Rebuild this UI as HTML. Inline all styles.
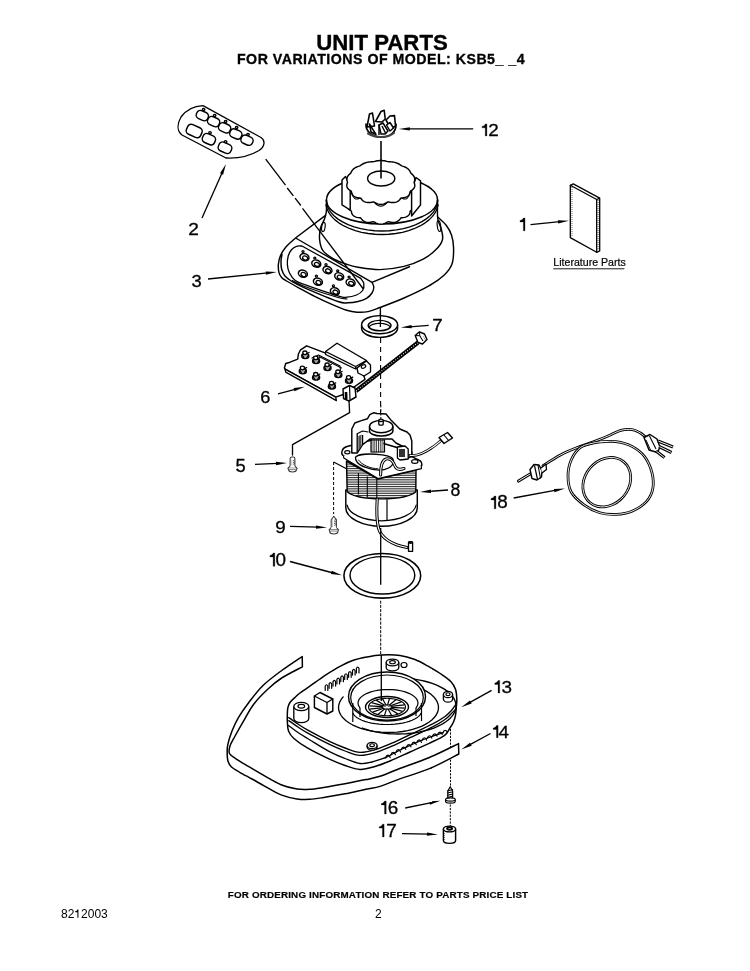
<!DOCTYPE html>
<html><head><meta charset="utf-8"><title>Unit Parts</title>
<style>
html,body{margin:0;padding:0;background:#fff;}
body{width:750px;height:971px;overflow:hidden;position:relative;font-family:"Liberation Sans",sans-serif;}
svg{position:absolute;left:0;top:0;-webkit-font-smoothing:antialiased;}
text{will-change:transform;}
.t{font-family:"Liberation Sans",sans-serif;fill:#000;}
.l{font-size:17.5px;stroke:#000;stroke-width:0.3px;}
.s{fill:none;stroke:#000;stroke-width:1.3;stroke-linejoin:round;stroke-linecap:round;}
.d{fill:none;stroke:#000;stroke-width:1;stroke-dasharray:6 3;}
.w{fill:#fff;stroke:#000;stroke-width:1.3;stroke-linejoin:round;}
.k{fill:#000;stroke:none;}
</style></head>
<body>
<svg width="750" height="971" viewBox="0 0 750 971">
<!-- TITLE -->
<text class="t" x="382" y="50" font-size="22.2" font-weight="bold" text-anchor="middle" style="stroke:#000;stroke-width:0.35px">UNIT PARTS</text>
<text class="t" x="381" y="64.4" font-size="14.2" font-weight="bold" text-anchor="middle" letter-spacing="0.48" style="stroke:#000;stroke-width:0.3px">FOR VARIATIONS OF MODEL: KSB5_ _4</text>
<!-- FOOTER -->
<text class="t" transform="translate(378 898) scale(1.2 1)" x="0" y="0" font-size="8.2" font-weight="bold" text-anchor="middle" letter-spacing="0.14" style="stroke:#000;stroke-width:0.15px">FOR ORDERING INFORMATION REFER TO PARTS PRICE LIST</text>
<text class="t" x="61" y="917.7" font-size="12">82<tspan style="fill:none">1</tspan>2003</text><path d="M77.37,909.44 L78.43,909.44 L78.43,917.70 L77.37,917.70 L77.37,912.14 L75.17,912.14 L75.17,911.19 C76.37,910.99 77.02,910.34 77.37,909.44 Z" style="fill:#000"/>
<text class="t" x="375" y="917.5" font-size="12">2</text>
<!-- LABELS -->
<path d="M485.25,123.90 L486.90,123.90 L486.90,135.90 L485.25,135.90 L485.25,127.80 L482.00,127.80 L482.00,126.40 C483.75,126.10 484.75,125.20 485.25,123.90 Z" style="fill:#000;stroke:#000;stroke-width:0.3px;stroke-linejoin:round"/>
<text class="t l" transform="translate(488.29 135.75) scale(1.080 0.958)">2</text>
<path d="M523.35,218.00 L525.00,218.00 L525.00,230.80 L523.35,230.80 L523.35,221.90 L520.00,221.90 L520.00,220.50 C521.85,220.20 522.85,219.30 523.35,218.00 Z" style="fill:#000;stroke:#000;stroke-width:0.3px;stroke-linejoin:round"/>
<text class="t l" transform="translate(188.19 234.75) scale(1.091 0.950)">2</text>
<text class="t l" transform="translate(191.45 287.28) scale(1.049 0.993)">3</text>
<text class="t l" transform="translate(432.19 331.45) scale(1.068 0.950)">7</text>
<text class="t l" transform="translate(260.23 403.18) scale(1.040 0.985)">6</text>
<text class="t l" transform="translate(235.42 471.68) scale(1.049 1.016)">5</text>
<text class="t l" transform="translate(450.58 496.48) scale(1.011 1.009)">8</text>
<text class="t l" transform="translate(275.27 532.69) scale(1.076 0.950)">9</text>
<path d="M494.25,496.00 L495.90,496.00 L495.90,508.80 L494.25,508.80 L494.25,499.90 L491.00,499.90 L491.00,498.50 C492.75,498.20 493.75,497.30 494.25,496.00 Z" style="fill:#000;stroke:#000;stroke-width:0.3px;stroke-linejoin:round"/>
<text class="t l" transform="translate(497.16 508.48) scale(1.080 1.009)">8</text>
<path d="M273.15,553.00 L274.80,553.00 L274.80,566.30 L273.15,566.30 L273.15,556.90 L269.90,556.90 L269.90,555.50 C271.65,555.20 272.65,554.30 273.15,553.00 Z" style="fill:#000;stroke:#000;stroke-width:0.3px;stroke-linejoin:round"/>
<text class="t l" transform="translate(275.58 565.97) scale(1.080 1.049)">0</text>
<path d="M498.05,680.50 L499.70,680.50 L499.70,693.00 L498.05,693.00 L498.05,684.40 L494.80,684.40 L494.80,683.00 C496.55,682.70 497.55,681.80 498.05,680.50 Z" style="fill:#000;stroke:#000;stroke-width:0.3px;stroke-linejoin:round"/>
<text class="t l" transform="translate(501.47 692.68) scale(1.080 0.985)">3</text>
<path d="M496.45,725.50 L498.10,725.50 L498.10,737.70 L496.45,737.70 L496.45,729.40 L493.20,729.40 L493.20,728.00 C494.95,727.70 495.95,726.80 496.45,725.50 Z" style="fill:#000;stroke:#000;stroke-width:0.3px;stroke-linejoin:round"/>
<text class="t l" transform="translate(498.59 737.55) scale(1.080 0.988)">4</text>
<path d="M384.55,801.00 L386.20,801.00 L386.20,814.00 L384.55,814.00 L384.55,804.90 L381.30,804.90 L381.30,803.50 C383.05,803.20 384.05,802.30 384.55,801.00 Z" style="fill:#000;stroke:#000;stroke-width:0.3px;stroke-linejoin:round"/>
<text class="t l" transform="translate(387.87 813.67) scale(1.080 1.025)">6</text>
<path d="M382.45,824.20 L384.10,824.20 L384.10,837.00 L382.45,837.00 L382.45,828.10 L379.20,828.10 L379.20,826.70 C380.95,826.40 381.95,825.50 382.45,824.20 Z" style="fill:#000;stroke:#000;stroke-width:0.3px;stroke-linejoin:round"/>
<text class="t l" transform="translate(386.19 836.85) scale(1.080 1.038)">7</text>
<text class="t" x="553.3" y="266.2" font-size="10.6" style="stroke:#000;stroke-width:0.2px">Literature Parts</text>
<line x1="553.3" y1="268.8" x2="624.4" y2="268.8" stroke="#000" stroke-width="0.9"/>
<line x1="473.2" y1="128.9" x2="407.8" y2="128.9" stroke="#000" stroke-width="1.32"/>
<path class="k" d="M398.8,128.9 L409.8,127.2 L409.8,130.6 Z"/>
<line x1="530.5" y1="224.6" x2="560.04" y2="221.68" stroke="#000" stroke-width="1.32"/>
<path class="k" d="M569,220.8 L558.22,223.57 L557.89,220.19 Z"/>
<line x1="202" y1="218" x2="222.34" y2="172.22" stroke="#000" stroke-width="1.32"/>
<path class="k" d="M226,164 L223.09,174.74 L219.98,173.36 Z"/>
<line x1="208" y1="279" x2="267.85" y2="272.91" stroke="#000" stroke-width="1.32"/>
<path class="k" d="M276.8,272 L266.03,274.8 L265.68,271.42 Z"/>
<line x1="428.7" y1="325.3" x2="409.67" y2="326.8" stroke="#000" stroke-width="1.32"/>
<path class="k" d="M400.7,327.5 L411.53,324.94 L411.8,328.33 Z"/>
<line x1="278" y1="393.9" x2="296.01" y2="389.04" stroke="#000" stroke-width="1.32"/>
<path class="k" d="M304.7,386.7 L294.52,391.21 L293.64,387.92 Z"/>
<line x1="255" y1="464.4" x2="278.01" y2="463.39" stroke="#000" stroke-width="1.32"/>
<path class="k" d="M287,463 L276.08,465.18 L275.94,461.78 Z"/>
<line x1="448" y1="490" x2="428.98" y2="491.36" stroke="#000" stroke-width="1.32"/>
<path class="k" d="M420,492 L430.85,489.52 L431.09,492.91 Z"/>
<line x1="290" y1="526.4" x2="318" y2="527.16" stroke="#000" stroke-width="1.32"/>
<path class="k" d="M327,527.4 L315.96,528.8 L316.05,525.4 Z"/>
<line x1="513.7" y1="498" x2="556.15" y2="490.22" stroke="#000" stroke-width="1.32"/>
<path class="k" d="M565,488.6 L554.49,492.25 L553.87,488.91 Z"/>
<line x1="290" y1="561.5" x2="333.3" y2="572.99" stroke="#000" stroke-width="1.32"/>
<path class="k" d="M342,575.3 L330.93,574.12 L331.8,570.84 Z"/>
<line x1="491.6" y1="690.3" x2="469.06" y2="702.91" stroke="#000" stroke-width="1.32"/>
<path class="k" d="M461.2,707.3 L469.97,700.45 L471.63,703.41 Z"/>
<line x1="490.5" y1="733.5" x2="469.1" y2="745.19" stroke="#000" stroke-width="1.32"/>
<path class="k" d="M461.2,749.5 L470.04,742.74 L471.67,745.72 Z"/>
<line x1="405.2" y1="808" x2="431.58" y2="802.6" stroke="#000" stroke-width="1.32"/>
<path class="k" d="M440.4,800.8 L429.96,804.67 L429.28,801.34 Z"/>
<line x1="402" y1="833.6" x2="429" y2="834.2" stroke="#000" stroke-width="1.32"/>
<path class="k" d="M438,834.4 L426.96,835.86 L427.04,832.46 Z"/>
<path class="s" d="M203,105.6 L261,137.5 C265.5,140.5 265,146.5 259,150.5 C250,156 238,158.5 226,158 L182,135 C177,131 177,124 181,117 C186,110 194,106 203,105.6 Z"/>
<rect class="s" x="196.2" y="111.3" width="12.2" height="8.6" rx="4" ry="3.6" transform="rotate(24 202.3 115.6)" style="stroke-width:1.45"/>
<rect class="s" x="207.5" y="117.3" width="12.2" height="8.6" rx="4" ry="3.6" transform="rotate(24 213.6 121.6)" style="stroke-width:1.45"/>
<rect class="s" x="218.5" y="123.5" width="12.2" height="8.6" rx="4" ry="3.6" transform="rotate(24 224.6 127.8)" style="stroke-width:1.45"/>
<rect class="s" x="229.7" y="129.7" width="12.2" height="8.6" rx="4" ry="3.6" transform="rotate(24 235.8 134)" style="stroke-width:1.45"/>
<rect class="s" x="240.9" y="135.9" width="12.2" height="8.6" rx="4" ry="3.6" transform="rotate(24 247 140.2)" style="stroke-width:1.45"/>
<rect class="s" x="186.45" y="125.75" width="15.5" height="10.5" rx="4" ry="3.6" transform="rotate(24 194.2 131)" style="stroke-width:1.45"/>
<rect class="s" x="202.4" y="134.5" width="13" height="9.4" rx="4" ry="3.6" transform="rotate(24 208.9 139.2)" style="stroke-width:1.45"/>
<rect class="s" x="218.3" y="143.1" width="13.4" height="9.4" rx="4" ry="3.6" transform="rotate(24 225 147.8)" style="stroke-width:1.45"/>
<ellipse class="w" cx="203.6" cy="109.6" rx="1.3" ry="1.1"/>
<ellipse class="w" cx="214.6" cy="115.4" rx="1.3" ry="1.1"/>
<ellipse class="w" cx="225.6" cy="121.4" rx="1.3" ry="1.1"/>
<ellipse class="w" cx="236.6" cy="127.6" rx="1.3" ry="1.1"/>
<ellipse class="w" cx="248" cy="134.4" rx="1.3" ry="1.1"/>
<ellipse class="w" cx="210" cy="132.8" rx="1.3" ry="1.1"/>
<ellipse class="w" cx="225.6" cy="141.8" rx="1.3" ry="1.1"/>
<path class="w" d="M570.3,185.3 L596.7,199.5 L596.7,252.3 L570.3,237.6 Z"/>
<path class="s" d="M570.3,185.3 L573.3,183.9 L599.7,198.1 L599.7,250.9 L596.7,252.3"/>
<line x1="596.7" y1="199.5" x2="599.7" y2="198.1" stroke="#000" stroke-width="1.32"/>
<line x1="572" y1="187" x2="572" y2="237" stroke="#000" stroke-width="0.6" stroke-dasharray="1 1"/>
<line x1="598.2" y1="200" x2="598.2" y2="250" stroke="#000" stroke-width="0.6" stroke-dasharray="1 1"/>
<path class="s" d="M366,124 C365.5,131 372,137 381,137.2 C390,137.2 396.5,132 396,124" style="stroke-width:1.68"/>
<path class="s" d="M368,133.5 C372,136 377,137 381,137 C386,137 391,135.5 394,133" style="stroke-width:2.16;stroke:#444"/>
<path class="w" d="M367,127 L369.5,114 L372.5,113 L374.5,126 Z" style="stroke-width:1.56"/>
<path class="w" d="M375.5,121.5 L381,111.5 L384.2,110.2 L385.2,119 L382,122 Z" style="stroke-width:1.56"/>
<path class="w" d="M386,120 L390,116 L394.5,115.6 L395.5,126 L391,129 Z" style="stroke-width:1.56"/>
<path class="w" d="M369.5,124 L373.5,130.5 L376,134.5 L371,132 Z" style="stroke-width:1.44"/>
<path class="w" d="M379,125 L383,123 L388,131 L385,134 L381,134 Z" style="stroke-width:1.44"/>
<path class="w" d="M386.5,125 L390,122.5 L393.5,128 L390,131 Z" style="stroke-width:1.44"/>
<line x1="379" y1="124.5" x2="379" y2="135" stroke="#000" stroke-width="1.44"/>
<line x1="382" y1="126" x2="386" y2="134" stroke="#000" stroke-width="1.44"/>
<path class="w" d="M325.2,215.6 L295.5,238 C293.9,239.5 288.4,244.07 285.9,247 C283.4,249.93 281.75,252.75 280.5,255.6 C279.25,258.45 278.65,261.25 278.4,264.1 C278.15,266.95 278.47,270.47 279,272.7 C279.53,274.93 280.35,276.12 281.6,277.5 C282.85,278.88 283.65,279.28 286.5,281 C289.35,282.72 294,285.25 298.7,287.8 C303.4,290.35 309.37,293.63 314.7,296.3 C320.03,298.97 325.37,301.48 330.7,303.8 C336.03,306.12 342.32,308.8 346.7,310.2 C351.08,311.6 353.45,311.97 357,312.2 C360.55,312.43 364.17,312.38 368,311.6 C371.83,310.82 374,309.77 380,307.5 C386,305.23 396,301.52 404,298 C412,294.48 421.33,290.2 428,286.4 C434.67,282.6 440,278.93 444,275.2 C448,271.47 450.4,268.53 452,264 C453.6,259.47 453.68,252.83 453.6,248 C453.52,243.17 452.77,238.83 451.5,235 C450.23,231.17 448.25,227.95 446,225 C443.75,222.05 439.33,218.58 438,217.3 L381,205 Z" style="stroke-width:1.44"/>
<path class="s" d="M296.5,238.5 L372,282.4 C372.3,283.17 373.8,285.23 373.8,287 C373.8,288.77 373.22,291.12 372,293 C370.78,294.88 368.83,296.88 366.5,298.3 C364.17,299.72 361.08,300.75 358,301.5 C354.92,302.25 351.33,302.8 348,302.8 C344.67,302.8 345.33,304.03 338,301.5 C330.67,298.97 311.67,290.93 304,287.6 C296.33,284.27 295.17,283.43 292,281.5 C288.83,279.57 286.73,278.08 285,276 C283.27,273.92 282.27,271.5 281.6,269 C280.93,266.5 280.93,263.42 281,261 C281.07,258.58 281.83,255.58 282,254.5" style="stroke-width:1.44"/>
<line x1="372" y1="282.4" x2="410" y2="266.5" stroke="#000" stroke-width="1.44"/>
<path class="s" d="M301.9,246 L360.8,278.4 C361.3,279.25 363.5,281.48 363.8,283.5 C364.1,285.52 363.82,288.58 362.6,290.5 C361.38,292.42 359.1,293.88 356.5,295 C353.9,296.12 350.08,297.07 347,297.2 C343.92,297.33 345.17,297.93 338,295.8 C330.83,293.67 311.17,287 304,284.4 C296.83,281.8 297.42,282.1 295,280.2 C292.58,278.3 290.77,275.53 289.5,273 C288.23,270.47 287.62,267.83 287.4,265 C287.18,262.17 287.52,258.53 288.2,256 C288.88,253.47 290.12,251.42 291.5,249.8 C292.88,248.18 294.77,246.93 296.5,246.3 C298.23,245.67 301,246.05 301.9,246" style="stroke-width:1.32"/>
<path class="s" d="M292.5,280.5 C294.42,281.45 296.42,283.37 304,286.2 C311.58,289.03 330.83,295.37 338,297.5 C345.17,299.63 345.5,298.75 347,299" style="stroke-width:1.2"/>
<ellipse class="s" cx="304.5" cy="257.2" rx="4.6" ry="3.5" transform="rotate(20 304.5 257.2)" style="stroke-width:1.5"/>
<ellipse class="s" cx="305.1" cy="258" rx="2.6" ry="1.9" transform="rotate(20 305.1 258)" style="stroke-width:1.32"/>
<ellipse class="s" cx="303" cy="251.6" rx="1.1" ry="0.9" style="stroke-width:1.2"/>
<ellipse class="s" cx="316.3" cy="263.6" rx="4.6" ry="3.5" transform="rotate(20 316.3 263.6)" style="stroke-width:1.5"/>
<ellipse class="s" cx="316.9" cy="264.4" rx="2.6" ry="1.9" transform="rotate(20 316.9 264.4)" style="stroke-width:1.32"/>
<ellipse class="s" cx="314.8" cy="258" rx="1.1" ry="0.9" style="stroke-width:1.2"/>
<ellipse class="s" cx="327.5" cy="270" rx="4.6" ry="3.5" transform="rotate(20 327.5 270)" style="stroke-width:1.5"/>
<ellipse class="s" cx="328.1" cy="270.8" rx="2.6" ry="1.9" transform="rotate(20 328.1 270.8)" style="stroke-width:1.32"/>
<ellipse class="s" cx="326" cy="264.4" rx="1.1" ry="0.9" style="stroke-width:1.2"/>
<ellipse class="s" cx="339.2" cy="276.4" rx="4.6" ry="3.5" transform="rotate(20 339.2 276.4)" style="stroke-width:1.5"/>
<ellipse class="s" cx="339.8" cy="277.2" rx="2.6" ry="1.9" transform="rotate(20 339.8 277.2)" style="stroke-width:1.32"/>
<ellipse class="s" cx="337.7" cy="270.8" rx="1.1" ry="0.9" style="stroke-width:1.2"/>
<ellipse class="s" cx="350.6" cy="282.6" rx="4.6" ry="3.5" transform="rotate(20 350.6 282.6)" style="stroke-width:1.5"/>
<ellipse class="s" cx="351.2" cy="283.4" rx="2.6" ry="1.9" transform="rotate(20 351.2 283.4)" style="stroke-width:1.32"/>
<ellipse class="s" cx="349.1" cy="277" rx="1.1" ry="0.9" style="stroke-width:1.2"/>
<ellipse class="s" cx="302.9" cy="273.7" rx="4.6" ry="3.5" transform="rotate(20 302.9 273.7)" style="stroke-width:1.5"/>
<ellipse class="s" cx="303.5" cy="274.5" rx="2.6" ry="1.9" transform="rotate(20 303.5 274.5)" style="stroke-width:1.32"/>
<ellipse class="s" cx="317.9" cy="281.7" rx="4.6" ry="3.5" transform="rotate(20 317.9 281.7)" style="stroke-width:1.5"/>
<ellipse class="s" cx="318.5" cy="282.5" rx="2.6" ry="1.9" transform="rotate(20 318.5 282.5)" style="stroke-width:1.32"/>
<ellipse class="s" cx="316.4" cy="276.1" rx="1.1" ry="0.9" style="stroke-width:1.2"/>
<ellipse class="s" cx="334.9" cy="291.3" rx="4.6" ry="3.5" transform="rotate(20 334.9 291.3)" style="stroke-width:1.5"/>
<ellipse class="s" cx="335.5" cy="292.1" rx="2.6" ry="1.9" transform="rotate(20 335.5 292.1)" style="stroke-width:1.32"/>
<ellipse class="s" cx="333.4" cy="285.7" rx="1.1" ry="0.9" style="stroke-width:1.2"/>
<path class="w" d="M326.5,205 C326.47,206.17 326.63,209.67 326.3,212 C325.97,214.33 325.47,216.33 324.5,219 C323.53,221.67 321.32,224.57 320.5,228 C319.68,231.43 319.22,235.88 319.6,239.6 C319.98,243.32 320.48,247.1 322.8,250.3 C325.12,253.5 329.63,256.52 333.5,258.8 C337.37,261.08 341.92,262.6 346,264 C350.08,265.4 352.33,266.27 358,267.2 C363.67,268.13 372.33,269.73 380,269.6 C387.67,269.47 396.8,268.13 404,266.4 C411.2,264.67 417.87,262 423.2,259.2 C428.53,256.4 432.8,252.8 436,249.6 C439.2,246.4 441.48,243.27 442.4,240 C443.32,236.73 442.27,233.5 441.5,230 C440.73,226.5 438.47,223.17 437.8,219 C437.13,214.83 437.55,207.33 437.5,205 Z" style="stroke-width:1.44"/>
<ellipse class="s" cx="323.4" cy="227" rx="1.7" ry="4.6" transform="rotate(8 323.4 227)" style="stroke-width:1.2"/>
<ellipse class="s" cx="439" cy="226" rx="1.7" ry="5.5" transform="rotate(-8 439 226)" style="stroke-width:1.2"/>
<ellipse class="w" cx="382" cy="200" rx="55.5" ry="24" style="stroke-width:1.44"/>
<path class="s" d="M437.8,200 L437.32,204.05 L435.9,208.02 L433.55,211.86 L430.32,215.5 L426.27,218.87 L421.46,221.92 L415.97,224.59 L409.9,226.85 L403.35,228.64 L396.44,229.94 L389.28,230.73 L382,231 L374.72,230.73 L367.56,229.94 L360.65,228.64 L354.1,226.85 L348.03,224.59 L342.54,221.92 L337.73,218.87 L333.68,215.5 L330.45,211.86 L328.1,208.02 L326.68,204.05 L326.2,200" style="stroke-width:1.32"/>
<path class="s" d="M438.09,204.83 L437.05,208.8 L435.18,212.67 L432.49,216.37 L429.04,219.86 L424.86,223.07 L420.04,225.96 L414.63,228.49 L408.72,230.61 L402.41,232.29 L395.78,233.51 L388.94,234.25 L382,234.5 L375.06,234.25 L368.22,233.51 L361.59,232.29 L355.28,230.61 L349.37,228.49 L343.96,225.96 L339.14,223.07 L334.96,219.86 L331.51,216.37 L328.82,212.67 L326.95,208.8 L325.91,204.83" style="stroke-width:1.32"/>
<line x1="326.5" y1="200" x2="326.5" y2="205" stroke="#000" stroke-width="1.44"/>
<line x1="437.5" y1="200" x2="437.5" y2="205" stroke="#000" stroke-width="1.44"/>
<path class="w" d="M414.06,202 L414.3,202.74 L414.52,203.48 L414.68,204.24 L414.78,205.01 L414.78,205.77 L414.66,206.53 L414.41,207.27 L414.01,207.99 L413.47,208.68 L412.79,209.33 L411.98,209.93 L411.07,210.48 L410.22,211.03 L410.14,211.82 L410.01,212.61 L409.78,213.4 L409.45,214.16 L408.97,214.88 L408.35,215.55 L407.58,216.14 L406.65,216.65 L405.59,217.07 L404.41,217.39 L403.15,217.62 L401.83,217.77 L400.74,218.06 L400.24,218.84 L399.66,219.6 L398.98,220.31 L398.18,220.95 L397.27,221.49 L396.23,221.92 L395.1,222.21 L393.87,222.37 L392.59,222.39 L391.27,222.29 L389.95,222.08 L388.64,221.79 L387.51,221.87 L386.54,222.49 L385.5,223.06 L384.4,223.54 L383.23,223.91 L382.03,224.14 L380.8,224.21 L379.57,224.14 L378.37,223.91 L377.2,223.54 L376.1,223.06 L375.06,222.49 L374.09,221.87 L372.96,221.79 L371.65,222.08 L370.33,222.29 L369.01,222.39 L367.73,222.37 L366.5,222.21 L365.37,221.92 L364.33,221.49 L363.42,220.95 L362.62,220.31 L361.94,219.6 L361.36,218.84 L360.86,218.06 L359.77,217.77 L358.45,217.62 L357.19,217.39 L356.01,217.07 L354.95,216.65 L354.02,216.14 L353.25,215.55 L352.63,214.88 L352.15,214.16 L351.82,213.4 L351.59,212.61 L351.46,211.82 L351.38,211.03 L350.53,210.48 L349.62,209.93 L348.81,209.33 L348.13,208.68 L347.59,207.99 L347.19,207.27 L346.94,206.53 L346.82,205.77 L346.82,205.01 L346.92,204.24 L347.08,203.48 L347.3,202.74 L347.54,202 L347.54,182.2 L414.06,182.2 Z" style="stroke-width:1.44"/>
<path class="w" d="M342,180 L345.5,176.5 L350.2,186 L350.2,210 L342,204.8 Z" style="stroke-width:1.44"/>
<path class="w" d="M420.5,180.8 L416,177.5 L411.6,190.5 L411.6,216 L420.5,205 Z" style="stroke-width:1.44"/>
<path class="w" d="M414.06,182.2 L414.3,182.94 L414.52,183.68 L414.68,184.44 L414.78,185.21 L414.78,185.97 L414.66,186.73 L414.41,187.47 L414.01,188.19 L413.47,188.88 L412.79,189.53 L411.98,190.13 L411.07,190.68 L410.22,191.23 L410.14,192.02 L410.01,192.81 L409.78,193.6 L409.45,194.36 L408.97,195.08 L408.35,195.75 L407.58,196.34 L406.65,196.85 L405.59,197.27 L404.41,197.59 L403.15,197.82 L401.83,197.97 L400.74,198.26 L400.24,199.04 L399.66,199.8 L398.98,200.51 L398.18,201.15 L397.27,201.69 L396.23,202.12 L395.1,202.41 L393.87,202.57 L392.59,202.59 L391.27,202.49 L389.95,202.28 L388.64,201.99 L387.51,202.07 L386.54,202.69 L385.5,203.26 L384.4,203.74 L383.23,204.11 L382.03,204.34 L380.8,204.41 L379.57,204.34 L378.37,204.11 L377.2,203.74 L376.1,203.26 L375.06,202.69 L374.09,202.07 L372.96,201.99 L371.65,202.28 L370.33,202.49 L369.01,202.59 L367.73,202.57 L366.5,202.41 L365.37,202.12 L364.33,201.69 L363.42,201.15 L362.62,200.51 L361.94,199.8 L361.36,199.04 L360.86,198.26 L359.77,197.97 L358.45,197.82 L357.19,197.59 L356.01,197.27 L354.95,196.85 L354.02,196.34 L353.25,195.75 L352.63,195.08 L352.15,194.36 L351.82,193.6 L351.59,192.81 L351.46,192.02 L351.38,191.23 L350.53,190.68 L349.62,190.13 L348.81,189.53 L348.13,188.88 L347.59,188.19 L347.19,187.47 L346.94,186.73 L346.82,185.97 L346.82,185.21 L346.92,184.44 L347.08,183.68 L347.3,182.94 L347.54,182.2 L347.27,181.46 L347.06,180.72 L346.93,179.96 L346.88,179.2 L346.94,178.44 L347.11,177.69 L347.38,176.96 L347.77,176.24 L348.25,175.54 L348.82,174.87 L349.48,174.23 L350.19,173.62 L350.87,173.01 L351.14,172.27 L351.48,171.54 L351.89,170.83 L352.39,170.14 L352.97,169.48 L353.65,168.85 L354.42,168.27 L355.27,167.73 L356.2,167.25 L357.19,166.81 L358.22,166.42 L359.29,166.06 L360.27,165.66 L361.03,165.08 L361.85,164.51 L362.72,163.99 L363.65,163.51 L364.65,163.08 L365.7,162.71 L366.8,162.41 L367.94,162.16 L369.11,161.99 L370.31,161.87 L371.51,161.81 L372.71,161.79 L373.86,161.65 L374.95,161.33 L376.08,161.05 L377.23,160.83 L378.41,160.66 L379.6,160.55 L380.8,160.52 L382,160.55 L383.19,160.66 L384.37,160.83 L385.52,161.05 L386.65,161.33 L387.74,161.65 L388.89,161.79 L390.09,161.81 L391.29,161.87 L392.49,161.99 L393.66,162.16 L394.8,162.41 L395.9,162.71 L396.95,163.08 L397.95,163.51 L398.88,163.99 L399.75,164.51 L400.57,165.08 L401.33,165.66 L402.31,166.06 L403.38,166.42 L404.41,166.81 L405.4,167.25 L406.33,167.73 L407.18,168.27 L407.95,168.85 L408.63,169.48 L409.21,170.14 L409.71,170.83 L410.12,171.54 L410.46,172.27 L410.73,173.01 L411.41,173.62 L412.12,174.23 L412.78,174.87 L413.35,175.54 L413.83,176.24 L414.22,176.96 L414.49,177.69 L414.66,178.44 L414.72,179.2 L414.67,179.96 L414.54,180.72 L414.33,181.46 Z" style="stroke-width:1.44"/>
<path class="s" d="M410.16,192.16 Q408.13,201.43 402.09,198.25" style="stroke-width:1.02"/>
<path class="s" d="M387.03,202.69 Q380.8,209.91 374.57,202.69" style="stroke-width:1.02"/>
<path class="s" d="M359.51,198.25 Q353.47,201.43 351.44,192.16" style="stroke-width:1.02"/>
<ellipse class="w" cx="381.2" cy="178.5" rx="13.6" ry="7.5" style="stroke-width:1.44"/>
<line x1="381" y1="141" x2="381" y2="178.5" stroke="#000" stroke-width="1.56"/>
<line x1="380.4" y1="307" x2="380.4" y2="330" stroke="#000" stroke-width="1.32"/>
<path class="w" d="M361.6,324.7 L361.6,328.3 A18,9.1 0 0 0 397.6,328.3 L397.6,324.7" style="stroke-width:1.44"/>
<ellipse class="w" cx="379.6" cy="324.7" rx="18" ry="9.1" style="stroke-width:1.44"/>
<ellipse class="w" cx="379.6" cy="325.6" rx="11.4" ry="5.2" style="stroke-width:1.44"/>
<path class="s" d="M369.04,327.04 L369.36,326.54 L369.81,326.06 L370.39,325.6 L371.09,325.17 L371.9,324.78 L372.8,324.43 L373.8,324.12 L374.87,323.87 L375.99,323.66 L377.17,323.52 L378.38,323.43 L379.6,323.4 L380.82,323.43 L382.03,323.52 L383.21,323.66 L384.33,323.87 L385.4,324.12 L386.4,324.43 L387.3,324.78 L388.11,325.17 L388.81,325.6 L389.39,326.06 L389.84,326.54 L390.16,327.04" style="stroke-width:1.2"/>
<line x1="380.4" y1="313" x2="380.4" y2="327" stroke="#000" stroke-width="1.32"/>
<line x1="380.6" y1="338" x2="380.6" y2="420" stroke="#000" stroke-width="1.1" stroke-dasharray="5 4"/>
<path class="w" d="M306.6,345.8 L324.3,352.7 L362,370.5 L365,379.3 L343.3,394.5 L335.7,397.1 L285.1,369.2 L284.4,367.9 L285.7,363.5 L290.1,362.2 L297.7,359.1 L298.4,354 L300.3,350.2 Z" style="stroke-width:1.44"/>
<path class="w" d="M285.1,369.2 L335.7,397.1 L336.4,400.6 L285.7,372.2 Z" style="stroke-width:1.32"/>
<path class="w" d="M325.6,351.5 L337,343.2 L366.5,360.5 L355.5,369 L325.6,354.5 Z" style="stroke-width:1.32"/>
<line x1="325.6" y1="351.5" x2="355.5" y2="366.5" stroke="#000" stroke-width="1.32"/>
<line x1="355.5" y1="366.5" x2="366.5" y2="360.5" stroke="#000" stroke-width="1.2"/>
<line x1="355.5" y1="366.5" x2="355.5" y2="369" stroke="#000" stroke-width="1.2"/>
<path class="w" d="M357,368 L366.5,361 L370.5,365 L370.5,372 L364,376 L358,373 Z" style="stroke-width:1.32"/>
<ellipse class="s" cx="363.5" cy="366.5" rx="2.3" ry="1.6" transform="rotate(-25 363.5 366.5)" style="stroke-width:1.2"/>
<path class="s" d="M312,358 L318.5,355 L340,366 L340.5,370.5" style="stroke-width:1.08"/>
<path class="s" d="M319,356.5 L341.5,368" style="stroke-width:1.08"/>
<ellipse class="w" cx="305.3" cy="356" rx="3.6" ry="2.6" style="fill:#aaa;stroke-width:1.32"/>
<path class="s" d="M302.3,355 L304.1,358.2 M308.5,354.8 L306.7,358.2 M306.8,353.5 L309.1,352.5" style="stroke-width:1.32"/>
<ellipse class="w" cx="304.9" cy="352.8" rx="2.1" ry="1.8" style="stroke-width:1.32"/>
<ellipse class="w" cx="316.1" cy="361.1" rx="3.6" ry="2.6" style="fill:#aaa;stroke-width:1.32"/>
<path class="s" d="M313.1,360.1 L314.9,363.3 M319.3,359.9 L317.5,363.3 M317.6,358.6 L319.9,357.6" style="stroke-width:1.32"/>
<ellipse class="w" cx="315.7" cy="357.9" rx="2.1" ry="1.8" style="stroke-width:1.32"/>
<ellipse class="w" cx="327.5" cy="368" rx="3.6" ry="2.6" style="fill:#aaa;stroke-width:1.32"/>
<path class="s" d="M324.5,367 L326.3,370.2 M330.7,366.8 L328.9,370.2 M329,365.5 L331.3,364.5" style="stroke-width:1.32"/>
<ellipse class="w" cx="327.1" cy="364.8" rx="2.1" ry="1.8" style="stroke-width:1.32"/>
<ellipse class="w" cx="338.3" cy="375" rx="3.6" ry="2.6" style="fill:#aaa;stroke-width:1.32"/>
<path class="s" d="M335.3,374 L337.1,377.2 M341.5,373.8 L339.7,377.2 M339.8,372.5 L342.1,371.5" style="stroke-width:1.32"/>
<ellipse class="w" cx="337.9" cy="371.8" rx="2.1" ry="1.8" style="stroke-width:1.32"/>
<ellipse class="w" cx="302.8" cy="371.2" rx="3.6" ry="2.6" style="fill:#aaa;stroke-width:1.32"/>
<path class="s" d="M299.8,370.2 L301.6,373.4 M306,370 L304.2,373.4 M304.3,368.7 L306.6,367.7" style="stroke-width:1.32"/>
<ellipse class="w" cx="302.4" cy="368" rx="2.1" ry="1.8" style="stroke-width:1.32"/>
<ellipse class="w" cx="316.1" cy="377.5" rx="3.6" ry="2.6" style="fill:#aaa;stroke-width:1.32"/>
<path class="s" d="M313.1,376.5 L314.9,379.7 M319.3,376.3 L317.5,379.7 M317.6,375 L319.9,374" style="stroke-width:1.32"/>
<ellipse class="w" cx="315.7" cy="374.3" rx="2.1" ry="1.8" style="stroke-width:1.32"/>
<ellipse class="w" cx="331.9" cy="386.4" rx="3.6" ry="2.6" style="fill:#aaa;stroke-width:1.32"/>
<path class="s" d="M328.9,385.4 L330.7,388.6 M335.1,385.2 L333.3,388.6 M333.4,383.9 L335.7,382.9" style="stroke-width:1.32"/>
<ellipse class="w" cx="331.5" cy="383.2" rx="2.1" ry="1.8" style="stroke-width:1.32"/>
<ellipse class="w" cx="349" cy="380.7" rx="3.6" ry="2.6" style="fill:#aaa;stroke-width:1.32"/>
<path class="s" d="M346,379.7 L347.8,382.9 M352.2,379.5 L350.4,382.9 M350.5,378.2 L352.8,377.2" style="stroke-width:1.32"/>
<ellipse class="w" cx="348.6" cy="377.5" rx="2.1" ry="1.8" style="stroke-width:1.32"/>
<line x1="356" y1="391" x2="418" y2="342.5" stroke-width="4.2" stroke="#000"/>
<line x1="356" y1="391" x2="418" y2="342.5" stroke-width="1.08" stroke="#fff" stroke-dasharray="0.9 1.6"/>
<path class="w" d="M415.2,335.5 L419.5,331.8 L424.5,334 L427,339.5 L422.5,344 L418,342.5 Z" style="stroke-width:1.44"/>
<line x1="419.5" y1="331.8" x2="419.8" y2="335.8" stroke="#000" stroke-width="1.08"/>
<line x1="415.2" y1="335.5" x2="419.8" y2="335.8" stroke="#000" stroke-width="1.08"/>
<line x1="419.8" y1="335.8" x2="423" y2="341" stroke="#000" stroke-width="1.08"/>
<line x1="423.5" y1="336.5" x2="426" y2="341" stroke-width="0.84" stroke="#444" stroke-dasharray="0.8 0.8"/>
<path class="w" d="M343,389 L349.5,385.5 L355,388 L356,397 L349,401 L343.5,398.5 Z" style="stroke-width:1.44"/>
<line x1="349.5" y1="385.5" x2="350" y2="399.8" stroke="#000" stroke-width="1.2"/>
<line x1="346" y1="392" x2="346.2" y2="399" stroke="#000" stroke-width="2.64"/>
<path class="s" d="M349,400.5 L349.6,412.6 L292.5,444.6 L292.5,455" style="stroke-width:1.32"/>
<defs><pattern id="wind" width="4" height="1.8" patternUnits="userSpaceOnUse"><rect width="4" height="1.8" fill="#fff"/><rect y="0" width="4" height="0.85" fill="#222"/></pattern></defs>
<path class="w" d="M345.8,490 L345.8,508 C346,518 362,526 381.5,526.3 C401,526 417.3,518 417.3,508 L417.3,490 Z" style="stroke-width:1.44"/>
<path class="s" d="M347,505 C349,514 363,520.5 381.5,520.8 C400,520.5 414.5,514 416.2,505" style="stroke-width:1.2"/>
<line x1="387" y1="499.5" x2="387" y2="521" stroke="#000" stroke-width="1.2"/>
<path class="s" d="M346.5,461 L347.2,491.7 C352,496 364,498.7 381.5,498.9 C399,498.7 411,496 415.8,491.7 L416,470 L378,479 Z" style="fill:url(#wind);stroke-width:1.44"/>
<line x1="358.4" y1="473" x2="358.4" y2="494.5" stroke="#000" stroke-width="1.08"/>
<line x1="367.3" y1="476.5" x2="367.3" y2="497.3" stroke="#000" stroke-width="1.08"/>
<line x1="376.8" y1="478.4" x2="376.8" y2="499" stroke="#000" stroke-width="1.08"/>
<path class="w" d="M342.2,450.6 C341.5,453 342,455 343.4,455.6 L378,476.3 L421.4,466.3 C422.5,464 421.5,461 419,460.2 L411.8,456.6 L411.8,452 L372,440 L347,446.5 C344.5,447.2 342.8,448.5 342.2,450.6 Z" style="stroke-width:1.44"/>
<path class="w" d="M343.4,455.6 L343.8,458 L378,478.6 L421.4,468.6 L421.4,466.3" style="stroke-width:1.2"/>
<path class="w" d="M355.5,457.2 C358,454 370,453.5 382,454.8 C390,455.8 394,458 393.4,462 C392.8,467 386,470.3 379,470.2 C370,469.8 360,466 357,462 C356,460.5 355.3,458.8 355.5,457.2 Z" style="stroke-width:1.32"/>
<path class="s" d="M358.5,460 C362,465 370,468.5 378,468.8" style="stroke-width:0.96"/>
<ellipse class="s" cx="347.3" cy="452.3" rx="2.6" ry="1.6" style="stroke-width:1.2"/>
<ellipse class="s" cx="414.8" cy="461.5" rx="3.2" ry="1.9" style="stroke-width:1.2"/>
<path class="w" d="M351.8,453 L351.8,429 L354.8,423 L361.4,420.6 L367.4,418.8 L369.8,414.6 L373.4,412.8 L377,413.5 L386,414 L391.4,420.6 L399.8,429 L407,432 L410,435 L411.8,441 L411.8,456.6 L405,459 L404,447 L396,443 L392,439 L370,439 L362.6,444.6 L357.2,453 Z" style="stroke-width:1.44"/>
<line x1="357.2" y1="433.8" x2="357.2" y2="453" stroke="#000" stroke-width="1.32"/>
<line x1="362.6" y1="435" x2="362.6" y2="444.6" stroke="#000" stroke-width="1.2"/>
<path d="M358.3,436 L361.5,434.5 L361.5,446 L358.3,450 Z" fill="#555"/>
<path class="s" d="M357.2,433.8 L362.6,431 L368,432" style="stroke-width:1.2"/>
<rect x="371" y="440" width="13" height="12" fill="url(#wind)" transform="rotate(90 377.5 446)"/>
<path class="s" d="M371,440 L384.5,440 L384.5,452 L371,452 Z" style="stroke-width:1.2"/>
<path class="w" d="M397.4,447 L405,446 L408.2,449 L408.2,459 L400,460 L397.4,458 Z" style="stroke-width:1.32"/>
<rect x="399" y="449" width="6" height="8" fill="#333"/>
<path class="w" d="M369.5,426.6 L369.5,431 A11.7,5 0 0 0 392.9,431 L392.9,426.6" style="stroke-width:1.44"/>
<ellipse class="w" cx="381.2" cy="426.6" rx="11.7" ry="6.2" style="stroke-width:1.44"/>
<path class="w" d="M378.8,420.3 L378.8,424 A2.2,1.2 0 0 0 383.2,424 L383.2,420.3" style="stroke-width:1.32"/>
<ellipse class="w" cx="381" cy="420.3" rx="2.2" ry="1.2" style="stroke-width:1.32"/>
<line x1="380.8" y1="405" x2="380.8" y2="419" stroke="#000" stroke-width="1" stroke-dasharray="2.5 1.5"/>
<path class="s" d="M380.6,475 C380.5,466 382,460.5 386,459 C390,458 393,461 395,466 C396.5,469.5 400,470 404,468.5" style="stroke-width:3.12"/>
<path class="s" d="M380.6,475 C380.5,466 382,460.5 386,459 C390,458 393,461 395,466 C396.5,469.5 400,470 404,468.5" style="stroke:#fff;stroke-width:1.08"/>
<path class="s" d="M410,455.5 C419,456.5 429,451 440.5,441" style="stroke-width:2.76"/>
<path class="s" d="M410,455.5 C419,456.5 429,451 440.5,441" style="stroke:#fff;stroke-width:1.02"/>
<path class="w" d="M439,437.5 L447.5,432.5 L452.5,438 L444,443.5 Z" style="stroke-width:1.44"/>
<line x1="444" y1="435" x2="448.6" y2="440.5" stroke="#000" stroke-width="1.08"/>
<path class="s" d="M377.2,499 C376.5,510 376.5,520 378.5,528 C381,538 392,545 407,547.5" style="stroke-width:3.12"/>
<path class="s" d="M377.2,499 C376.5,510 376.5,520 378.5,528 C381,538 392,545 407,547.5" style="stroke:#fff;stroke-width:1.08"/>
<path class="w" d="M408.5,542.2 L412.6,542.2 L412.6,551.3 L408.5,551.3 Z" style="stroke-width:1.32"/>
<ellipse class="s" cx="410.5" cy="542.5" rx="2" ry="0.9" style="stroke-width:1.08"/>
<path class="w" d="M290.1,466 L290.1,458.5 Q290.1,457 291.7,457 L293.3,457 Q294.9,457 294.9,458.5 L294.9,466" style="stroke:#333;stroke-width:1.02"/>
<line x1="292.8" y1="461" x2="294.9" y2="460" stroke-width="0.84" stroke="#444"/>
<line x1="292.8" y1="462.7" x2="294.9" y2="461.7" stroke-width="0.84" stroke="#444"/>
<line x1="292.8" y1="464.4" x2="294.9" y2="463.4" stroke-width="0.84" stroke="#444"/>
<line x1="290.9" y1="459.5" x2="290.9" y2="465.5" stroke-width="0.72" stroke="#777"/>
<path class="w" d="M290.1,466 L288,468.2 L297,468.2 L294.9,466" style="stroke:#333;stroke-width:1.02"/>
<path class="w" d="M288,468.2 L288.6,470.2 Q289,472 292.5,472 Q296,472 296.4,470.2 L297,468.2" style="stroke:#333;stroke-width:1.02"/>
<line x1="288.8" y1="469.6" x2="296.2" y2="469.6" stroke-width="0.72" stroke="#555"/>
<line x1="333.6" y1="462" x2="333.6" y2="514" stroke="#000" stroke-width="1" stroke-dasharray="3 2"/>
<line x1="333.6" y1="462" x2="347" y2="469" stroke="#000" stroke-width="1.2"/>
<path class="w" d="M331.2,527.5 L331.2,519.8 L333.8,516.3 L336.4,519.8 L336.4,527.5" style="stroke:#333;stroke-width:1.02"/>
<line x1="334.1" y1="520.3" x2="336.4" y2="519.3" stroke-width="0.84" stroke="#444"/>
<line x1="334.1" y1="522" x2="336.4" y2="521" stroke-width="0.84" stroke="#444"/>
<line x1="334.1" y1="523.7" x2="336.4" y2="522.7" stroke-width="0.84" stroke="#444"/>
<line x1="334.1" y1="525.4" x2="336.4" y2="524.4" stroke-width="0.84" stroke="#444"/>
<line x1="332" y1="518.8" x2="332" y2="527" stroke-width="0.72" stroke="#777"/>
<path class="w" d="M331.2,527.5 L329.2,529.7 L338.4,529.7 L336.4,527.5" style="stroke:#333;stroke-width:1.02"/>
<path class="w" d="M329.2,529.7 L329.8,532.2 Q330.2,534 333.8,534 Q337.4,534 337.8,532.2 L338.4,529.7" style="stroke:#333;stroke-width:1.02"/>
<line x1="330" y1="531.1" x2="337.6" y2="531.1" stroke-width="0.72" stroke="#555"/>
<ellipse class="s" cx="382.3" cy="575.8" rx="38.4" ry="22.3" style="stroke-width:1.56"/>
<ellipse class="s" cx="382.4" cy="575.3" rx="32.4" ry="18.7" style="stroke-width:1.44"/>
<line x1="380.7" y1="528" x2="380.7" y2="584.7" stroke="#000" stroke-width="1.32"/>
<line x1="380.7" y1="600.7" x2="380.7" y2="655" stroke="#000" stroke-width="1" stroke-dasharray="3 1.2"/>
<path class="w" d="M287.3,715.4 C287.37,713.05 287.33,710.08 287.8,707.9 C288.27,705.72 288.78,704.17 290.1,702.3 C291.42,700.43 294.05,698.25 295.7,696.7 C297.35,695.15 297.07,695.17 300,693 C302.93,690.83 308.85,686.82 313.3,683.7 C317.75,680.58 322.25,677.2 326.7,674.3 C331.15,671.4 335.57,668.63 340,666.3 C344.43,663.97 348.85,661.85 353.3,660.3 C357.75,658.75 362.03,657.88 366.7,657 C371.37,656.12 375.75,655.27 381.3,655 C386.85,654.73 394.38,654.65 400,655.4 C405.62,656.15 410.4,657.75 415,659.5 C419.6,661.25 423.27,663.48 427.6,665.9 C431.93,668.32 437.13,671.4 441,674 C444.87,676.6 448.38,678.95 450.8,681.5 C453.22,684.05 454.5,686.45 455.5,689.3 C456.5,692.15 456.65,695.82 456.8,698.6 C456.95,701.38 456.62,703.22 456.4,706 C456.18,708.78 455.97,712.68 455.5,715.3 C455.03,717.92 454.53,719.55 453.6,721.7 C452.67,723.85 451.45,725.87 449.9,728.2 C448.35,730.53 447.85,733.13 444.3,735.7 C440.75,738.27 434.32,740.88 428.6,743.6 C422.88,746.32 416.43,749.1 410,752 C403.57,754.9 395.83,758.58 390,761 C384.17,763.42 380,765.1 375,766.5 C370,767.9 365,769.57 360,769.4 C355,769.23 350,767.17 345,765.5 C340,763.83 336.2,762.28 330,759.4 C323.8,756.52 313.82,751.68 307.8,748.2 C301.78,744.72 297.12,741.37 293.9,738.5 C290.68,735.63 289.58,733.75 288.5,731 C287.42,728.25 287.6,724.6 287.4,722 C287.2,719.4 287.23,717.75 287.3,715.4 Z" style="stroke-width:1.5"/>
<path class="s" d="M288.8,717.6 C290.33,718.67 294.83,721.9 298,724 C301.17,726.1 302.47,727.25 307.8,730.2 C313.13,733.15 323.8,738.73 330,741.7 C336.2,744.67 340,746.22 345,748 C350,749.78 354.67,752.23 360,752.4 C365.33,752.57 371.17,750.77 377,749 C382.83,747.23 389.5,744.18 395,741.8 C400.5,739.42 403.63,737.73 410,734.7 C416.37,731.67 427.37,726.63 433.2,723.6 C439.03,720.57 442.03,718.6 445,716.5 C447.97,714.4 449.25,712.92 451,711 C452.75,709.08 454.75,706 455.5,705" style="stroke-width:1.38"/>
<path class="s" d="M288.8,720.6 C290.33,721.67 294.83,724.9 298,727 C301.17,729.1 302.47,730.25 307.8,733.2 C313.13,736.15 323.8,741.73 330,744.7 C336.2,747.67 340,749.22 345,751 C350,752.78 354.67,755.23 360,755.4 C365.33,755.57 371.17,753.77 377,752 C382.83,750.23 389.5,747.18 395,744.8 C400.5,742.42 403.63,740.73 410,737.7 C416.37,734.67 427.37,729.63 433.2,726.6 C439.03,723.57 442.03,721.6 445,719.5 C447.97,717.4 449.12,715.83 451,714 C452.88,712.17 455.42,709.42 456.3,708.5" style="stroke-width:1.32"/>
<path class="s" d="M288.5,725.5 C290.08,726.67 294.42,730.08 298,732.5 C301.58,734.92 304.67,736.77 310,740 C315.33,743.23 324.17,748.82 330,751.9 C335.83,754.98 340,756.57 345,758.5 C350,760.43 355.5,762.92 360,763.5 C364.5,764.08 367.67,763 372,762 C376.33,761 383.67,758.25 386,757.5" style="stroke-width:1.32"/>
<path class="s" d="M385.6,757.8 q0.8,-2.6 2.4,-2.6 q1.6,0 2.2,2.4" style="stroke-width:1.2"/>
<path class="s" d="M390.8,754.96 q0.8,-2.6 2.4,-2.6 q1.6,0 2.2,2.4" style="stroke-width:1.2"/>
<path class="s" d="M396,752.24 q0.8,-2.6 2.4,-2.6 q1.6,0 2.2,2.4" style="stroke-width:1.2"/>
<path class="s" d="M401.2,749.63 q0.8,-2.6 2.4,-2.6 q1.6,0 2.2,2.4" style="stroke-width:1.2"/>
<path class="s" d="M406.4,747.14 q0.8,-2.6 2.4,-2.6 q1.6,0 2.2,2.4" style="stroke-width:1.2"/>
<path class="s" d="M411.6,744.76 q0.8,-2.6 2.4,-2.6 q1.6,0 2.2,2.4" style="stroke-width:1.2"/>
<path class="s" d="M416.8,742.5 q0.8,-2.6 2.4,-2.6 q1.6,0 2.2,2.4" style="stroke-width:1.2"/>
<path class="s" d="M422,740.36 q0.8,-2.6 2.4,-2.6 q1.6,0 2.2,2.4" style="stroke-width:1.2"/>
<path class="s" d="M427.2,738.33 q0.8,-2.6 2.4,-2.6 q1.6,0 2.2,2.4" style="stroke-width:1.2"/>
<path class="s" d="M432.4,736.42 q0.8,-2.6 2.4,-2.6 q1.6,0 2.2,2.4" style="stroke-width:1.2"/>
<path class="s" d="M437.6,734.63 q0.8,-2.6 2.4,-2.6 q1.6,0 2.2,2.4" style="stroke-width:1.2"/>
<path class="s" d="M442.8,732.95 q0.8,-2.6 2.4,-2.6 q1.6,0 2.2,2.4" style="stroke-width:1.2"/>
<path class="s" d="M386,757.5 L391.2,754.66 L396.4,751.94 L401.6,749.33 L406.8,746.84 L412,744.46 L417.2,742.2 L422.4,740.06 L427.6,738.03 L432.8,736.12 L438,734.33 L443.2,732.65" style="stroke-width:1.2"/>
<path class="s" d="M325.2,690.5 L325.2,686 Q326.5,683.5 327.8,686 L327.8,690.5" style="stroke-width:1.2"/>
<path class="s" d="M329.1,688.3 L329.1,683.8 Q330.4,681.3 331.7,683.8 L331.7,688.3" style="stroke-width:1.2"/>
<path class="s" d="M333,686.1 L333,681.6 Q334.3,679.1 335.6,681.6 L335.6,686.1" style="stroke-width:1.2"/>
<path class="s" d="M336.9,683.9 L336.9,679.4 Q338.2,676.9 339.5,679.4 L339.5,683.9" style="stroke-width:1.2"/>
<path class="s" d="M340.8,681.7 L340.8,677.2 Q342.1,674.7 343.4,677.2 L343.4,681.7" style="stroke-width:1.2"/>
<path class="s" d="M344.7,679.5 L344.7,675 Q346,672.5 347.3,675 L347.3,679.5" style="stroke-width:1.2"/>
<path class="s" d="M348.6,677.3 L348.6,672.8 Q349.9,670.3 351.2,672.8 L351.2,677.3" style="stroke-width:1.2"/>
<path class="s" d="M352.5,675.1 L352.5,670.6 Q353.8,668.1 355.1,670.6 L355.1,675.1" style="stroke-width:1.2"/>
<path class="s" d="M356.4,672.9 L356.4,668.4 Q357.7,665.9 359,668.4 L359,672.9" style="stroke-width:1.2"/>
<path class="s" d="M413.01,678.95 L417.1,679.56 L421.09,680.31 L424.95,681.21 L428.66,682.23 L432.21,683.39 L435.57,684.67 L438.73,686.06 L441.66,687.57 L444.36,689.17 L446.8,690.87 L448.98,692.65 L450.88,694.5 L452.49,696.41 L453.81,698.38 L454.82,700.39 L455.53,702.43 L455.91,704.48 L455.99,706.55 L455.75,708.61 L455.19,710.66 L454.32,712.68 L453.15,714.67 L451.67,716.61 L449.91,718.49 L447.86,720.31 L445.53,722.04 L442.95,723.69 L440.13,725.24 L437.08,726.69 L433.81,728.03 L430.35,729.24 L426.71,730.33 L422.91,731.29 L418.98,732.1 L414.94,732.78 L410.8,733.31 L406.59,733.69 L402.34,733.92 L398.06,734 L393.79,733.93 L389.53,733.7 L385.32,733.32 L381.18,732.8 L377.14,732.13 L373.2,731.31 L369.4,730.36 L365.76,729.28 L362.29,728.06" style="stroke-width:1.38"/>
<path class="s" d="M423.86,689.82 L427.49,691.85 L430.67,694.07 L433.34,696.44 L435.48,698.95 L437.07,701.56 L438.07,704.24 L438.49,706.95 L438.31,709.68 L437.54,712.38 L436.19,715.02 L434.27,717.57 L431.8,720 L428.82,722.28 L425.36,724.39 L421.47,726.3 L417.18,727.98 L412.55,729.42 L407.63,730.6 L402.49,731.5 L397.18,732.12 L391.77,732.45 L386.32,732.48 L380.89,732.21 L375.56,731.65 L370.38,730.8 L365.41,729.68 L360.72,728.29 L356.36,726.65 L352.38,724.79 L348.83,722.72 L345.75,720.47 L343.18,718.07 L341.15,715.54 L339.69,712.91 L338.8,710.22 L338.5,707.5 L338.8,704.78 L339.69,702.09 L341.15,699.46 L343.18,696.93" style="stroke-width:1.32"/>
<ellipse class="w" cx="387" cy="696.5" rx="38.5" ry="24.5" style="stroke-width:1.44"/>
<ellipse class="s" cx="387" cy="697.6" rx="36.3" ry="22.6" style="stroke-width:1.2"/>
<line x1="352.8" y1="703" x2="352.8" y2="722" stroke="#000" stroke-width="1.2"/>
<line x1="421.5" y1="703" x2="421.5" y2="721" stroke="#000" stroke-width="1.2"/>
<path class="s" d="M420.98,713.34 L420.05,714.87 L418.68,716.35 L416.88,717.75 L414.67,719.06 L412.09,720.26 L409.18,721.34 L405.96,722.28 L402.48,723.06 L398.8,723.69 L394.96,724.14 L391.01,724.41 L387,724.5 L382.99,724.41 L379.04,724.14 L375.2,723.69 L371.52,723.06 L368.04,722.28 L364.82,721.34 L361.91,720.26 L359.33,719.06 L357.12,717.75 L355.32,716.35 L353.95,714.87 L353.02,713.34" style="stroke-width:1.2"/>
<path class="s" d="M359.81,707.62 L358.53,705.54 L358.01,703.39 L358.26,701.24 L359.26,699.13 L361,697.12 L363.43,695.26 L366.48,693.59 L370.09,692.17 L374.15,691.03 L378.56,690.19 L383.22,689.67 L388,689.5 L392.78,689.67 L397.44,690.19 L401.85,691.03 L405.91,692.17 L409.52,693.59 L412.57,695.26 L415,697.12 L416.74,699.13 L417.74,701.24 L417.99,703.39 L417.47,705.54 L416.19,707.62" style="stroke-width:1.2"/>
<line x1="360" y1="708" x2="360" y2="717" stroke="#000" stroke-width="1.2"/>
<line x1="416" y1="708" x2="416" y2="716" stroke="#000" stroke-width="1.2"/>
<ellipse class="w" cx="387" cy="707" rx="21.5" ry="10.5" style="stroke-width:1.44"/>
<ellipse class="s" cx="387" cy="707" rx="18.5" ry="8.8" style="stroke-width:1.08"/>
<line x1="391.16" y1="707.29" x2="404.82" y2="708.2" stroke="#000" stroke-width="1.2"/>
<line x1="390.62" y1="708.07" x2="402.51" y2="711.36" stroke="#000" stroke-width="1.2"/>
<line x1="389.53" y1="708.68" x2="397.83" y2="713.87" stroke="#000" stroke-width="1.2"/>
<line x1="388.05" y1="709.03" x2="391.51" y2="715.33" stroke="#000" stroke-width="1.2"/>
<line x1="386.42" y1="709.08" x2="384.49" y2="715.52" stroke="#000" stroke-width="1.2"/>
<line x1="384.87" y1="708.81" x2="377.86" y2="714.41" stroke="#000" stroke-width="1.2"/>
<line x1="383.65" y1="708.26" x2="372.62" y2="712.18" stroke="#000" stroke-width="1.2"/>
<line x1="382.93" y1="707.53" x2="369.57" y2="709.15" stroke="#000" stroke-width="1.2"/>
<line x1="382.84" y1="706.71" x2="369.18" y2="705.8" stroke="#000" stroke-width="1.2"/>
<line x1="383.38" y1="705.93" x2="371.49" y2="702.64" stroke="#000" stroke-width="1.2"/>
<line x1="384.47" y1="705.32" x2="376.17" y2="700.13" stroke="#000" stroke-width="1.2"/>
<line x1="385.95" y1="704.97" x2="382.49" y2="698.67" stroke="#000" stroke-width="1.2"/>
<line x1="387.58" y1="704.92" x2="389.51" y2="698.48" stroke="#000" stroke-width="1.2"/>
<line x1="389.13" y1="705.19" x2="396.14" y2="699.59" stroke="#000" stroke-width="1.2"/>
<line x1="390.35" y1="705.74" x2="401.38" y2="701.82" stroke="#000" stroke-width="1.2"/>
<line x1="391.07" y1="706.47" x2="404.43" y2="704.85" stroke="#000" stroke-width="1.2"/>
<ellipse class="w" cx="387" cy="707" rx="4.3" ry="2.2" style="stroke-width:1.08"/>
<ellipse class="k" cx="385" cy="706.6" rx="0.7" ry="0.55"/>
<ellipse class="k" cx="389" cy="706.6" rx="0.7" ry="0.55"/>
<ellipse class="k" cx="387" cy="708.2" rx="0.7" ry="0.55"/>
<ellipse class="k" cx="387" cy="705.6" rx="0.7" ry="0.55"/>
<path class="w" d="M314.4,696 L320,692.5 L332.8,699 L332.8,711 L327,714 L314.4,707.5 Z" style="stroke-width:1.44"/>
<path class="s" d="M314.4,696 L327,702.5 L332.8,699" style="stroke-width:1.32"/>
<line x1="327" y1="702.5" x2="327" y2="714" stroke="#000" stroke-width="1.32"/>
<path class="w" d="M293.8,706.5 L293.8,718.5 A7.5,4.2 0 0 0 308.8,718.5 L308.8,706.5" style="stroke-width:1.32"/>
<ellipse class="w" cx="301.3" cy="706.5" rx="7.5" ry="4.2" style="stroke-width:1.32"/>
<ellipse class="s" cx="301.3" cy="706.2" rx="3.38" ry="1.89" style="stroke-width:1.2"/>
<path class="w" d="M386.2,662.5 L386.2,667.5 A6.3,3.4 0 0 0 398.8,667.5 L398.8,662.5" style="stroke-width:1.32"/>
<ellipse class="w" cx="392.5" cy="662.5" rx="6.3" ry="3.4" style="stroke-width:1.32"/>
<ellipse class="s" cx="392.5" cy="662.2" rx="2.83" ry="1.53" style="stroke-width:1.2"/>
<path class="w" d="M443.4,694.5 L443.4,699 A4.6,3.2 0 0 0 452.6,699 L452.6,694.5" style="stroke-width:1.32"/>
<ellipse class="w" cx="448" cy="694.5" rx="4.6" ry="3.2" style="stroke-width:1.32"/>
<ellipse class="s" cx="448" cy="694.2" rx="2.07" ry="1.44" style="stroke-width:1.2"/>
<path class="w" d="M367.1,745.5 L367.1,747 A5,3.2 0 0 0 377.1,747 L377.1,745.5" style="stroke-width:1.32"/>
<ellipse class="w" cx="372.1" cy="745.5" rx="5" ry="3.2" style="stroke-width:1.32"/>
<ellipse class="s" cx="372.1" cy="745.2" rx="2.25" ry="1.44" style="stroke-width:1.2"/>
<ellipse class="s" cx="404" cy="665" rx="3" ry="2.5" style="stroke-width:1.2"/>
<line x1="381.3" y1="655" x2="381.3" y2="701" stroke="#000" stroke-width="1.32"/>
<line x1="450.5" y1="729" x2="450.5" y2="787" stroke="#000" stroke-width="1" stroke-dasharray="2.2 1.2"/>
<path class="w" d="M302.2,656.5 C298.78,658.83 288.23,665.67 281.7,670.5 C275.17,675.33 268.45,680.2 263,685.5 C257.55,690.8 253.05,697.02 249,702.3 C244.95,707.58 241.53,712.42 238.7,717.2 C235.87,721.98 233.82,726.42 232,731 C230.18,735.58 228.6,741.03 227.8,744.7 C227,748.37 227.17,750.25 227.2,753 C227.23,755.75 227.28,758.87 228,761.2 C228.72,763.53 229.55,765.15 231.5,767 C233.45,768.85 236.28,770.3 239.7,772.3 C243.12,774.3 247.78,776.67 252,779 C256.22,781.33 260.17,783.65 265,786.3 C269.83,788.95 275.67,792.8 281,794.9 C286.33,797 292.2,798.17 297,798.9 C301.8,799.63 305.35,799.53 309.8,799.3 C314.25,799.07 317.83,798.42 323.7,797.5 C329.57,796.58 337.95,795.18 345,793.8 C352.05,792.42 360.17,790.43 366,789.2 C371.83,787.97 374.67,788 380,786.4 C385.33,784.8 389.67,782.6 398,779.6 C406.33,776.6 419.87,772.67 430,768.4 C440.13,764.13 454,756.4 458.8,754 L458.5,743.6 C453.75,745.87 440.08,752.93 430,757.2 C419.92,761.47 406.33,766.03 398,769.2 C389.67,772.37 385.33,774.47 380,776.2 C374.67,777.93 371.83,778.35 366,779.6 C360.17,780.85 352.05,782.4 345,783.7 C337.95,785 329.57,786.47 323.7,787.4 C317.83,788.33 314.25,789.03 309.8,789.3 C305.35,789.57 301.8,789.77 297,789 C292.2,788.23 286.33,786.83 281,784.7 C275.67,782.57 270.5,779.28 265,776.2 C259.5,773.12 252.83,769.1 248,766.2 C243.17,763.3 239.08,760.92 236,758.8 C232.92,756.68 230.5,755.63 229.5,753.5 C228.5,751.37 229.12,748.83 230,746 C230.88,743.17 232.72,740.37 234.8,736.5 C236.88,732.63 239.35,728.18 242.5,722.8 C245.65,717.42 249.5,709.8 253.7,704.2 C257.9,698.6 263.03,693.57 267.7,689.2 C272.37,684.83 275.92,681.73 281.7,678 C287.48,674.27 298.95,668.67 302.4,666.8 Z" style="stroke-width:1.5"/>
<path class="w" d="M447.8,798.5 L447.8,791 L450.2,786.8 L452.6,791 L452.6,798.5 Z" style="stroke-width:1.2"/>
<line x1="447.3" y1="790.9" x2="453.1" y2="789.5" stroke="#000" stroke-width="1.08"/>
<line x1="447.3" y1="793.1" x2="453.1" y2="791.7" stroke="#000" stroke-width="1.08"/>
<line x1="447.3" y1="795.3" x2="453.1" y2="793.9" stroke="#000" stroke-width="1.08"/>
<line x1="447.3" y1="797.5" x2="453.1" y2="796.1" stroke="#000" stroke-width="1.08"/>
<path class="w" d="M445.6,799.5 L445.6,801.6 A4.8,1.6 0 0 0 455.2,801.6 L455.2,799.5" style="stroke-width:1.2"/>
<ellipse class="w" cx="450.4" cy="799.5" rx="4.8" ry="1.6" style="stroke-width:1.2"/>
<line x1="450.3" y1="804.5" x2="450.3" y2="826" stroke="#000" stroke-width="1" stroke-dasharray="2.2 1.2"/>
<path class="w" d="M443.4,829 L443.4,840.5 C443.4,844.3 455.6,844.3 455.6,840.5 L455.6,829 Z" style="stroke-width:1.44"/>
<ellipse class="w" cx="449.5" cy="829" rx="6.1" ry="2.9" style="stroke-width:1.44"/>
<ellipse class="s" cx="449.6" cy="828.6" rx="2.6" ry="1.3" style="stroke-width:1.68"/>
<line x1="444.2" y1="833" x2="444.2" y2="840" stroke="#000" stroke-width="0.72" stroke-dasharray="1 1"/>
<path class="s" d="M543,465.7 C545.83,463.95 554.5,458.15 560,455.2 C565.5,452.25 570.67,450.13 576,448 C581.33,445.87 586.67,444.4 592,442.4 C597.33,440.4 603.2,438 608,436 C612.8,434 616.8,431.47 620.8,430.4 C624.8,429.33 628.8,429.2 632,429.6 C635.2,430 637.75,431.57 640,432.8 C642.25,434.03 644.58,436.3 645.5,437" style="stroke-width:2.76"/>
<path class="s" d="M543,465.7 C545.83,463.95 554.5,458.15 560,455.2 C565.5,452.25 570.67,450.13 576,448 C581.33,445.87 586.67,444.4 592,442.4 C597.33,440.4 603.2,438 608,436 C612.8,434 616.8,431.47 620.8,430.4 C624.8,429.33 628.8,429.2 632,429.6 C635.2,430 637.75,431.57 640,432.8 C642.25,434.03 644.58,436.3 645.5,437" style="stroke:#fff;stroke-width:0.9"/>
<path class="s" d="M600,441.8 C602.67,441.77 610.67,440.83 616,441.6 C621.33,442.37 627.2,443.87 632,446.4 C636.8,448.93 641.47,452.4 644.8,456.8 C648.13,461.2 650.67,467.47 652,472.8 C653.33,478.13 653.73,484 652.8,488.8 C651.87,493.6 649.87,497.87 646.4,501.6 C642.93,505.33 637.07,509.07 632,511.2 C626.93,513.33 621.33,514.13 616,514.4 C610.67,514.67 605.33,514.4 600,512.8 C594.67,511.2 588.8,508.27 584,504.8 C579.2,501.33 573.87,496.8 571.2,492 C568.53,487.2 568,481.33 568,476 C568,470.67 569.07,464.8 571.2,460 C573.33,455.2 576.53,450.13 580.8,447.2 C585.07,444.27 592.27,443.35 596.8,442.4 C601.33,441.45 606.13,441.65 608,441.5" style="stroke-width:2.76"/>
<path class="s" d="M600,441.8 C602.67,441.77 610.67,440.83 616,441.6 C621.33,442.37 627.2,443.87 632,446.4 C636.8,448.93 641.47,452.4 644.8,456.8 C648.13,461.2 650.67,467.47 652,472.8 C653.33,478.13 653.73,484 652.8,488.8 C651.87,493.6 649.87,497.87 646.4,501.6 C642.93,505.33 637.07,509.07 632,511.2 C626.93,513.33 621.33,514.13 616,514.4 C610.67,514.67 605.33,514.4 600,512.8 C594.67,511.2 588.8,508.27 584,504.8 C579.2,501.33 573.87,496.8 571.2,492 C568.53,487.2 568,481.33 568,476 C568,470.67 569.07,464.8 571.2,460 C573.33,455.2 576.53,450.13 580.8,447.2 C585.07,444.27 592.27,443.35 596.8,442.4 C601.33,441.45 606.13,441.65 608,441.5" style="stroke:#fff;stroke-width:0.9"/>
<path class="s" d="M623.83,461.9 C625.76,463.51 627.43,465.65 628.57,467.96 C629.71,470.27 630.46,473.02 630.68,475.74 C630.91,478.46 630.63,481.49 629.91,484.3 C629.19,487.11 627.93,490.04 626.35,492.6 C624.78,495.16 622.69,497.65 620.44,499.65 C618.19,501.65 615.52,503.4 612.88,504.6 C610.24,505.8 607.3,506.59 604.58,506.84 C601.86,507.09 599.03,506.84 596.56,506.11 C594.09,505.39 591.69,504.11 589.77,502.5 C587.84,500.89 586.17,498.75 585.03,496.44 C583.89,494.13 583.14,491.38 582.92,488.66 C582.69,485.94 582.97,482.91 583.69,480.1 C584.41,477.29 585.67,474.36 587.25,471.8 C588.82,469.24 590.91,466.75 593.16,464.75 C595.41,462.75 598.08,461 600.72,459.8 C603.36,458.6 606.3,457.81 609.02,457.56 C611.74,457.31 614.57,457.56 617.04,458.29 C619.51,459.01 621.91,460.29 623.83,461.9 Z" style="stroke-width:2.76"/>
<path class="s" d="M623.83,461.9 C625.76,463.51 627.43,465.65 628.57,467.96 C629.71,470.27 630.46,473.02 630.68,475.74 C630.91,478.46 630.63,481.49 629.91,484.3 C629.19,487.11 627.93,490.04 626.35,492.6 C624.78,495.16 622.69,497.65 620.44,499.65 C618.19,501.65 615.52,503.4 612.88,504.6 C610.24,505.8 607.3,506.59 604.58,506.84 C601.86,507.09 599.03,506.84 596.56,506.11 C594.09,505.39 591.69,504.11 589.77,502.5 C587.84,500.89 586.17,498.75 585.03,496.44 C583.89,494.13 583.14,491.38 582.92,488.66 C582.69,485.94 582.97,482.91 583.69,480.1 C584.41,477.29 585.67,474.36 587.25,471.8 C588.82,469.24 590.91,466.75 593.16,464.75 C595.41,462.75 598.08,461 600.72,459.8 C603.36,458.6 606.3,457.81 609.02,457.56 C611.74,457.31 614.57,457.56 617.04,458.29 C619.51,459.01 621.91,460.29 623.83,461.9 Z" style="stroke:#fff;stroke-width:0.9"/>
<path class="s" d="M518.5,481 L531,473.5" style="stroke-width:3.12"/>
<path class="s" d="M518.5,481 L531,473.5" style="stroke:#fff;stroke-width:0.96"/>
<path class="w" d="M530,469.5 L534,464.5 L539,465 L542,471 L541.5,477 L537,480 L532,478.5 Z" style="stroke-width:1.44"/>
<line x1="534.5" y1="465.5" x2="537.5" y2="479.5" stroke="#000" stroke-width="1.2"/>
<line x1="538" y1="465" x2="540.5" y2="478.5" stroke="#000" stroke-width="1.08"/>
<path class="w" d="M541,468 L546,464 L546.5,469.5 L542,473" style="stroke-width:1.32"/>
<path class="w" d="M644,437.5 L650,434.5 L657,439 L660,447 L657.5,452.5 L649,450 Z" style="stroke-width:1.44"/>
<line x1="649.5" y1="436" x2="656" y2="449" stroke="#000" stroke-width="1.08"/>
<line x1="646" y1="440" x2="651" y2="451" stroke="#000" stroke-width="0.96"/>
<line x1="658" y1="441" x2="673" y2="447" stroke="#000" stroke-width="3.12"/>
<line x1="658.4" y1="441.15" x2="672.6" y2="446.85" stroke-width="0.96" stroke="#fff"/>
<line x1="659" y1="446.5" x2="671.5" y2="452.5" stroke="#000" stroke-width="3.12"/>
<line x1="659.4" y1="446.65" x2="671.1" y2="452.35" stroke-width="0.96" stroke="#fff"/>
<line x1="656" y1="451" x2="664.5" y2="457.5" stroke="#000" stroke-width="3.12"/>
<line x1="656.4" y1="451.15" x2="664.1" y2="457.35" stroke-width="0.96" stroke="#fff"/>
<line x1="265.7" y1="159.1" x2="285.5" y2="185.1" stroke="#000" stroke-width="1.32"/>
<line x1="287.2" y1="188" x2="293.4" y2="195.9" stroke="#000" stroke-width="1.32"/>
<line x1="295.1" y1="198.2" x2="300.8" y2="205.5" stroke="#000" stroke-width="1.32"/>
<line x1="302.5" y1="208.4" x2="363" y2="288.5" stroke="#000" stroke-width="1.32"/>
</svg>
</body></html>
